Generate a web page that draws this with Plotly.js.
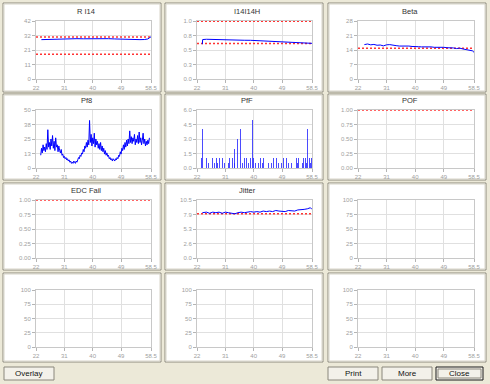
<!DOCTYPE html>
<html><head><meta charset="utf-8">
<script src="https://cdn.plot.ly/plotly-3.0.1.min.js"></script>
<style>html,body{margin:0;padding:0;background:#ECE9D8;overflow:hidden}#chart{width:490px;height:384px;}</style>
</head><body><div id="chart"></div>
<script>
// ---------- data ----------
const xRange = [22, 58.5];
const xTickVals = [22, 31, 40, 49, 58.5];
const xTickText = ['22', '31', '40', '49', '58.5'];

const panelTitles = ['R I14', 'I14I14H', 'Beta', 'Pf8', 'PfF', 'POF', 'EDC Fail', 'Jitter', '', '', '', ''];
const yMax = [42, 1, 28, 50, 6, 1, 1, 10.5, 100, 100, 100, 100];
const yTickText = [
  ['0', '11', '21', '32', '42'],
  ['0.0', '0.3', '0.5', '0.8', '1.0'],
  ['0', '7', '14', '21', '28'],
  ['0', '13', '25', '38', '50'],
  ['0.0', '1.5', '3.0', '4.5', '6.0'],
  ['0.00', '0.25', '0.50', '0.75', '1.00'],
  ['0.00', '0.25', '0.50', '0.75', '1.00'],
  ['0.0', '2.6', '5.3', '7.9', '10.5'],
  ['0', '25', '50', '75', '100'],
  ['0', '25', '50', '75', '100'],
  ['0', '25', '50', '75', '100'],
  ['0', '25', '50', '75', '100']
];

// R I14
const rI14X = [23.7, 25, 27, 29, 31, 33, 35, 37, 39, 41, 43, 45, 47, 49, 51, 53, 55, 56.5, 57.5, 58, 58.5];
const rI14Y = [28.5, 28.6, 29.0, 29.2, 29.2, 29.1, 29.2, 29.1, 29.2, 29.1, 29.1, 29.2, 29.0, 28.8, 28.9, 28.6, 28.5, 28.6, 29.0, 29.8, 30.6];
const rI14Limits = [30.5, 18];

// I14I14H
const i14X = [23.7, 23.8, 25, 27, 29, 31, 33, 35, 37, 39, 41, 43, 45, 47, 49, 51, 53, 55, 57, 58.5];
const i14Y = [0.60, 0.68, 0.685, 0.68, 0.678, 0.675, 0.672, 0.67, 0.668, 0.667, 0.662, 0.66, 0.657, 0.653, 0.65, 0.645, 0.64, 0.635, 0.625, 0.615];
const i14Limits = [0.995, 0.61];

// Beta
const betaX = [24, 25, 26, 27, 28, 29, 30, 31, 32, 33, 34, 35, 36, 37, 38, 39, 40, 41, 42, 43, 44, 45, 46, 47, 48, 49, 50, 51, 52, 53, 54, 55, 56, 57, 58, 58.5];
const betaY = [16.6, 16.9, 16.5, 16.7, 16.3, 16.4, 16.0, 16.5, 16.6, 16.2, 16.1, 15.9, 16.0, 15.8, 15.9, 15.7, 15.8, 15.6, 15.5, 15.6, 15.4, 15.5, 15.3, 15.4, 15.2, 15.3, 15.1, 15.2, 15.0, 14.7, 14.9, 14.5, 14.3, 14.0, 13.6, 12.9];
const betaLimits = [14.9];

// Pf8 (sampled every 0.25 starting at 23.5)
const pf8Start = 23.5;
const pf8Step = 0.25;
const pf8Y = [11, 17, 13, 20, 15, 18, 14, 21, 16, 33, 18, 22, 16, 25, 19, 28, 17, 23, 15, 26,
  18, 20, 14, 19, 15, 13, 16, 11, 12, 9, 10, 8, 9, 7, 8, 6, 7, 5, 6, 4,
  5, 4, 6, 5, 4, 6, 5, 7, 9, 8, 11, 10, 13, 12, 16, 14, 19, 17, 22, 18,
  24, 20, 41, 22, 29, 19, 26, 21, 30, 18, 25, 20, 23, 17, 21, 16, 22, 15, 19, 14,
  17, 12, 15, 11, 13, 10, 11, 8, 9, 7, 8, 6, 8, 7, 6, 8, 7, 9, 8, 11,
  10, 14, 12, 17, 15, 20, 16, 22, 18, 24, 19, 25, 21, 32, 22, 27, 21, 26, 23, 29,
  20, 25, 22, 28, 21, 31, 22, 26, 20, 24, 30, 21, 25, 19, 23, 20, 24, 21, 26];

// PfF
const pfFX = [23.4, 23.7, 23.9, 24.5, 25.0, 25.6, 26.1, 27.0, 27.5, 28.1, 28.6, 29.1, 30.2, 30.7, 31.2, 32.0, 32.3, 33.3, 33.8, 34.0,
  34.4, 34.8, 35.3, 35.8, 36.0, 36.5, 37.0, 37.8, 38.3, 38.9, 39.5, 39.7, 40.0, 40.5, 41.0, 41.5, 42.1, 42.7, 43.1, 43.6,
  44.2, 44.7, 45.2, 45.7, 46.2, 46.8, 47.3, 47.8, 48.3, 48.9, 49.4, 49.9, 50.4, 51.0, 51.5, 52.0, 52.5, 53.1, 53.6, 54.0,
  54.3, 54.7, 55.0, 55.4, 55.7, 56.0, 56.4, 56.8, 57.0, 57.2, 57.6, 58.0, 58.3];
const pfFY = [1, 4, 2, 0.5, 1, 0.5, 1, 1, 0.5, 1, 0.5, 1, 1, 0.5, 1, 0.5, 1, 1, 0.5, 2,
  1.5, 3, 1, 4, 2.5, 0.5, 1, 1, 0.5, 1, 4.5, 5, 1, 0.5, 1, 0.5, 1, 0.5, 1, 0.5,
  1, 0.5, 1, 0.5, 1, 0.5, 1, 0.5, 1, 0.5, 1, 0.5, 1, 0.5, 1, 0.5, 1, 0.5, 1, 0.5,
  1, 0.5, 1, 0.5, 1, 0.5, 1, 0.5, 4, 2, 1, 0.5, 1];

// POF, EDC Fail limits
const pofLimits = [1];
const edcLimits = [1];

// Jitter
const jitX = [23.7, 25, 26, 27, 28, 29, 30, 31, 32, 33, 34, 35, 36, 37, 38, 39, 40, 41, 42, 43, 44, 45, 46, 47, 48, 49, 50, 51, 52, 53, 54, 55, 56, 57, 58, 58.5];
const jitY = [8.2, 8.3, 8.1, 8.3, 8.2, 8.3, 8.1, 8.3, 8.2, 8.1, 8.0, 8.2, 8.3, 8.2, 8.3, 8.4, 8.3, 8.4, 8.3, 8.5, 8.4, 8.5, 8.4, 8.6, 8.5, 8.5, 8.4, 8.6, 8.6, 8.5, 8.7, 8.7, 8.8, 8.9, 9.1, 8.8];
const jitLimits = [8.0];

// ---------- layout geometry (px) ----------
const W = 490, H = 384;
const panelCols = [[3, 161], [165, 323], [328, 486]];
const panelRows = [[3, 92], [94, 180], [183, 270], [273, 362]];
const plotCols = [[36, 151], [197, 312], [358, 474]];
const plotRows = [[21, 79], [110, 168], [200, 258], [290, 347]];
const titleX = [86, 247, 410];
const titleY = [11, 101, 191];

const BLUE = '#0000ff';
const RED = '#ff3333';
const FONT = 'Liberation Sans, Arial, sans-serif';
const px = v => v / W;
const py = v => 1 - v / H;

function ax(i, letter) { return letter + (i === 0 ? '' : (i + 1)); }

const traces = [];
function line(i, x, y) {
  traces.push({type: 'scatter', mode: 'lines', x: x, y: y, xaxis: ax(i, 'x'), yaxis: ax(i, 'y'),
    line: {color: BLUE, width: 1}, hoverinfo: 'skip'});
}
function limits(i, vals) {
  vals.forEach(v => traces.push({type: 'scatter', mode: 'lines', x: xRange, y: [v, v], cliponaxis: false,
    xaxis: ax(i, 'x'), yaxis: ax(i, 'y'), line: {color: RED, width: 1.5, dash: '2px,2px'}, hoverinfo: 'skip'}));
}
function empty(i) {
  traces.push({type: 'scatter', mode: 'lines', x: [null], y: [null], xaxis: ax(i, 'x'), yaxis: ax(i, 'y'), hoverinfo: 'skip'});
}

limits(0, rI14Limits); line(0, rI14X, rI14Y);
limits(1, i14Limits); line(1, i14X, i14Y);
limits(2, betaLimits); line(2, betaX, betaY);
traces.push({type: 'scatter', mode: 'lines', x0: pf8Start, dx: pf8Step, y: pf8Y, xaxis: 'x4', yaxis: 'y4',
  line: {color: BLUE, width: 1}, hoverinfo: 'skip'});
traces.push({type: 'bar', x: pfFX, y: pfFY, xaxis: 'x5', yaxis: 'y5', width: 0.22,
  marker: {color: 'rgba(30,30,255,0.8)', line: {width: 0}}, hoverinfo: 'skip'});
limits(5, pofLimits);
limits(6, edcLimits);
limits(7, jitLimits); line(7, jitX, jitY);
[8, 9, 10, 11].forEach(empty);

const layout = {
  width: W, height: H, margin: {l: 0, r: 0, t: 0, b: 0},
  paper_bgcolor: '#ECE9D8', plot_bgcolor: 'rgba(0,0,0,0)',
  showlegend: false, bargap: 0,
  font: {family: FONT},
  shapes: [], annotations: []
};

const tickFont = {family: FONT, size: 6, color: '#a0a0a0'};
for (let i = 0; i < 12; i++) {
  const c = i % 3, r = Math.floor(i / 3);
  const yv = [0, 0.25, 0.5, 0.75, 1].map(f => f * yMax[i]);
  layout['xaxis' + (i === 0 ? '' : i + 1)] = {
    domain: [px(plotCols[c][0]), px(plotCols[c][1])], anchor: ax(i, 'y'),
    range: xRange, tickmode: 'array', tickvals: xTickVals, ticktext: xTickText,
    showgrid: true, gridcolor: '#e0e0e0', gridwidth: 1, zeroline: false,
    showline: true, linecolor: '#c8c8c8', mirror: true, layer: 'below traces',
    ticks: 'outside', ticklen: 3, tickcolor: '#b4b4b4', tickfont: tickFont, fixedrange: true
  };
  layout['yaxis' + (i === 0 ? '' : i + 1)] = {
    domain: [py(plotRows[r][1]), py(plotRows[r][0])], anchor: ax(i, 'x'),
    range: [0, yMax[i]], tickmode: 'array', tickvals: yv, ticktext: yTickText[i],
    showgrid: true, gridcolor: '#e0e0e0', gridwidth: 1, zeroline: false,
    showline: true, linecolor: '#c8c8c8', mirror: true, layer: 'below traces',
    ticks: 'outside', ticklen: 3, tickcolor: '#b4b4b4', tickfont: tickFont, fixedrange: true
  };
  // panel (sunken frame)
  layout.shapes.push({type: 'rect', xref: 'paper', yref: 'paper', layer: 'below',
    x0: px(panelCols[c][0]), x1: px(panelCols[c][1]), y0: py(panelRows[r][1]), y1: py(panelRows[r][0]),
    fillcolor: '#ffffff', line: {color: '#8e8b7e', width: 1}});
  layout.shapes.push({type: 'rect', xref: 'paper', yref: 'paper', layer: 'below',
    x0: px(panelCols[c][0] + 1), x1: px(panelCols[c][1] - 1), y0: py(panelRows[r][1] - 1), y1: py(panelRows[r][0] + 1),
    fillcolor: 'rgba(0,0,0,0)', line: {color: '#d8d5c8', width: 1}});
  if (panelTitles[i]) {
    layout.annotations.push({xref: 'paper', yref: 'paper', x: px(titleX[c]), y: py(titleY[r]),
      xanchor: 'center', yanchor: 'middle', showarrow: false, text: panelTitles[i],
      font: {family: FONT, size: 7.5, color: '#333333'}});
  }
}

// buttons
const buttons = [
  {label: 'Overlay', x: [4, 54], focus: false},
  {label: 'Print', x: [328, 378], focus: false},
  {label: 'More', x: [382, 432], focus: false},
  {label: 'Close', x: [436, 483], focus: true}
];
const btnY = [367, 380];
buttons.forEach(b => {
  layout.shapes.push({type: 'rect', xref: 'paper', yref: 'paper',
    x0: px(b.x[0]), x1: px(b.x[1]), y0: py(btnY[1]), y1: py(btnY[0]),
    fillcolor: '#F3F1EA', line: {color: b.focus ? '#1a1a1a' : '#8a877c', width: 1}});
  if (b.focus) {
    layout.shapes.push({type: 'rect', xref: 'paper', yref: 'paper',
      x0: px(b.x[0] + 2), x1: px(b.x[1] - 2), y0: py(btnY[1] - 2), y1: py(btnY[0] + 2),
      fillcolor: 'rgba(0,0,0,0)', line: {color: '#8a877c', width: 1}});
  }
  layout.annotations.push({xref: 'paper', yref: 'paper', x: px((b.x[0] + b.x[1]) / 2), y: py((btnY[0] + btnY[1]) / 2),
    xanchor: 'center', yanchor: 'middle', showarrow: false, text: b.label,
    font: {family: FONT, size: 8, color: '#111111'}});
});

Plotly.newPlot('chart', traces, layout, {staticPlot: true, displayModeBar: false});
</script>
</body></html>
